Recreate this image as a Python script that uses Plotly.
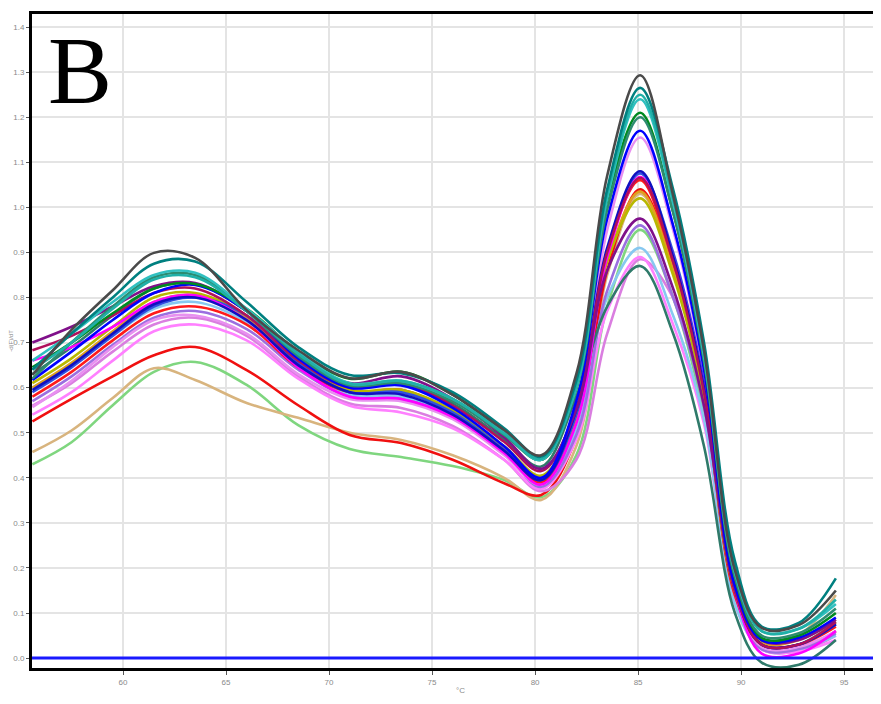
import plotly.graph_objects as go

# Temperature sample points (°C)
TEMP = [55.6, 57.5, 59.5, 61.5, 63.5, 66, 68.5, 71, 73.5, 76, 78.5, 80.3,
        82, 83.5, 85.1, 86.7, 88.2, 89.7, 91, 92.8, 94.6]

# -d(F)/dT curves
s_gray = [0.628, 0.728, 0.816, 0.899, 0.888, 0.772, 0.683, 0.621, 0.635, 0.584, 0.506, 0.450, 0.630, 1.070, 1.293, 1.027, 0.683, 0.195, 0.067, 0.073, 0.150]
s_teal = [0.640, 0.720, 0.800, 0.875, 0.880, 0.790, 0.690, 0.628, 0.632, 0.590, 0.510, 0.447, 0.615, 1.040, 1.265, 1.040, 0.700, 0.215, 0.070, 0.078, 0.177]
s_turq = [0.660, 0.720, 0.790, 0.850, 0.855, 0.775, 0.680, 0.610, 0.615, 0.575, 0.500, 0.440, 0.600, 1.020, 1.240, 1.010, 0.670, 0.190, 0.060, 0.065, 0.120]
s_sea = [0.620, 0.700, 0.780, 0.845, 0.850, 0.770, 0.670, 0.605, 0.610, 0.570, 0.495, 0.440, 0.595, 0.995, 1.200, 0.990, 0.660, 0.180, 0.050, 0.055, 0.110]
s_purple = [0.700, 0.735, 0.780, 0.825, 0.832, 0.770, 0.670, 0.610, 0.625, 0.575, 0.490, 0.420, 0.550, 0.860, 0.975, 0.820, 0.560, 0.160, 0.040, 0.040, 0.085]
s_maroon = [0.683, 0.715, 0.760, 0.810, 0.820, 0.760, 0.660, 0.600, 0.610, 0.560, 0.480, 0.415, 0.555, 0.900, 1.065, 0.880, 0.590, 0.150, 0.030, 0.030, 0.080]
s_blue = [0.617, 0.680, 0.750, 0.810, 0.828, 0.770, 0.665, 0.600, 0.605, 0.555, 0.470, 0.400, 0.570, 0.975, 1.170, 0.960, 0.640, 0.160, 0.040, 0.045, 0.090]
s_blue2 = [0.595, 0.650, 0.720, 0.785, 0.800, 0.750, 0.650, 0.590, 0.585, 0.540, 0.460, 0.395, 0.550, 0.910, 1.080, 0.890, 0.600, 0.150, 0.030, 0.030, 0.075]
s_green = [0.645, 0.700, 0.765, 0.820, 0.830, 0.775, 0.680, 0.620, 0.635, 0.585, 0.500, 0.440, 0.610, 1.015, 1.210, 0.990, 0.660, 0.180, 0.045, 0.050, 0.100]
s_olive = [0.610, 0.665, 0.735, 0.800, 0.810, 0.760, 0.660, 0.595, 0.595, 0.550, 0.470, 0.405, 0.540, 0.880, 1.020, 0.850, 0.580, 0.150, 0.040, 0.045, 0.080]
s_red = [0.580, 0.635, 0.705, 0.765, 0.780, 0.740, 0.645, 0.590, 0.595, 0.545, 0.460, 0.390, 0.530, 0.900, 1.060, 0.870, 0.580, 0.140, 0.030, 0.030, 0.070]
s_violet = [0.557, 0.615, 0.690, 0.750, 0.760, 0.720, 0.630, 0.575, 0.570, 0.530, 0.450, 0.385, 0.530, 0.950, 1.155, 0.950, 0.630, 0.150, 0.025, 0.025, 0.060]
s_pink = [0.540, 0.590, 0.660, 0.725, 0.740, 0.705, 0.620, 0.560, 0.545, 0.510, 0.440, 0.375, 0.485, 0.770, 0.890, 0.740, 0.520, 0.120, 0.020, 0.015, 0.040]
s_red2 = [0.525, 0.575, 0.625, 0.672, 0.690, 0.639, 0.561, 0.495, 0.477, 0.440, 0.388, 0.362, 0.490, 0.860, 1.040, 0.870, 0.600, 0.160, 0.025, 0.020, 0.060]
s_tan = [0.457, 0.505, 0.577, 0.643, 0.617, 0.566, 0.533, 0.500, 0.484, 0.450, 0.400, 0.351, 0.470, 0.850, 1.030, 0.870, 0.580, 0.150, 0.030, 0.050, 0.140]
s_lgreen = [0.430, 0.479, 0.561, 0.635, 0.657, 0.606, 0.517, 0.464, 0.446, 0.426, 0.395, 0.357, 0.450, 0.780, 0.950, 0.800, 0.540, 0.130, 0.020, 0.030, 0.080]
s_sky = [0.600, 0.650, 0.715, 0.775, 0.790, 0.745, 0.650, 0.585, 0.580, 0.535, 0.455, 0.390, 0.505, 0.800, 0.910, 0.760, 0.530, 0.120, 0.020, 0.020, 0.050]
s_orchid = [0.560, 0.610, 0.680, 0.740, 0.755, 0.715, 0.625, 0.565, 0.555, 0.515, 0.440, 0.370, 0.440, 0.720, 0.885, 0.800, 0.560, 0.140, 0.020, 0.015, 0.050]
s_dteal = [0.630, 0.690, 0.760, 0.820, 0.830, 0.770, 0.670, 0.605, 0.610, 0.565, 0.485, 0.425, 0.580, 0.780, 0.870, 0.720, 0.470, 0.100, -0.010, -0.015, 0.040]
s_orange = [0.600, 0.655, 0.725, 0.790, 0.805, 0.755, 0.655, 0.592, 0.590, 0.545, 0.465, 0.400, 0.535, 0.880, 1.035, 0.860, 0.580, 0.150, 0.035, 0.040, 0.085]
s_royal = [0.590, 0.645, 0.715, 0.780, 0.800, 0.760, 0.655, 0.590, 0.590, 0.545, 0.462, 0.395, 0.540, 0.900, 1.075, 0.900, 0.610, 0.155, 0.030, 0.030, 0.075]
s_magenta = [0.660, 0.690, 0.735, 0.790, 0.805, 0.750, 0.645, 0.580, 0.575, 0.535, 0.455, 0.385, 0.520, 0.890, 1.067, 0.890, 0.600, 0.150, 0.010, 0.010, 0.060]
s_mpurple = [0.570, 0.625, 0.695, 0.755, 0.770, 0.730, 0.640, 0.580, 0.575, 0.535, 0.455, 0.380, 0.495, 0.815, 0.960, 0.800, 0.560, 0.140, 0.020, 0.020, 0.055]
s_cyan = [0.640, 0.700, 0.775, 0.840, 0.845, 0.770, 0.675, 0.608, 0.615, 0.575, 0.498, 0.442, 0.605, 1.030, 1.250, 1.020, 0.680, 0.200, 0.060, 0.065, 0.130]

SERIES = [
    (s_lgreen, "#7fd67f"), (s_tan, "#d8b47e"), (s_red2, "#f01010"),
    (s_orchid, "#da7ee0"), (s_pink, "#ff80ff"), (s_sky, "#87c8f0"),
    (s_mpurple, "#9b6fe0"), (s_dteal, "#2f7a6a"), (s_violet, "#e890f0"),
    (s_red, "#ff1a1a"), (s_orange, "#e0a020"), (s_olive, "#b8b800"),
    (s_royal, "#3050e0"), (s_magenta, "#ff00ff"), (s_blue2, "#1010c0"),
    (s_maroon, "#b0105a"), (s_purple, "#80108a"), (s_blue, "#0000ff"),
    (s_green, "#008a20"), (s_sea, "#2e8b70"), (s_turq, "#30c0c0"),
    (s_cyan, "#20b0a8"), (s_teal, "#008080"), (s_gray, "#4a4a4a"),
]

X_TICKS = [60, 65, 70, 75, 80, 85, 90, 95]
Y_TICKS = [0.0, 0.1, 0.2, 0.3, 0.4, 0.5, 0.6, 0.7, 0.8, 0.9, 1.0, 1.1, 1.2, 1.3, 1.4]

fig = go.Figure()
for vals, col in SERIES:
    fig.add_trace(go.Scatter(
        x=TEMP, y=vals, mode="lines",
        line=dict(color=col, width=2.6, shape="spline", smoothing=1.0),
        showlegend=False, hoverinfo="skip"))

fig.add_shape(type="line", xref="paper", x0=0, x1=1, yref="y", y0=0, y1=0,
              line=dict(color="#1a1aff", width=3))

fig.add_annotation(text="B", xref="paper", yref="paper", x=0.0, y=1.0,
                   xshift=14, yshift=-1, xanchor="left", yanchor="top",
                   showarrow=False,
                   font=dict(family="Liberation Serif", size=96, color="black"))

fig.update_layout(
    width=881, height=688,
    margin=dict(l=24, r=0, t=6, b=28),
    paper_bgcolor="white", plot_bgcolor="white",
    font=dict(family="Liberation Sans", size=8, color="#8a8a8a"),
    xaxis=dict(range=[55.58, 97.18], tickvals=X_TICKS,
               ticktext=[str(v) for v in X_TICKS], automargin=False,
               showgrid=True, gridcolor="#e4e4e4", gridwidth=2,
               showline=True, linecolor="black", linewidth=3, mirror=True,
               ticks="outside", ticklen=4, tickcolor="#555",
               tickfont=dict(size=8, color="#8a8a8a"),
               title=dict(text="°C", font=dict(size=8, color="#8a8a8a"), standoff=2),
               zeroline=False),
    yaxis=dict(range=[-0.022, 1.429], tickvals=Y_TICKS,
               ticktext=["%.1f" % v for v in Y_TICKS], automargin=False,
               showgrid=True, gridcolor="#e4e4e4", gridwidth=2,
               showline=True, linecolor="black", linewidth=3,
               ticks="outside", ticklen=3, tickcolor="#555",
               tickfont=dict(size=8, color="#8a8a8a"),
               title=dict(text="-d(F)/dT", font=dict(size=6, color="#8a8a8a"), standoff=0),
               zeroline=False),
)

fig.write_html("out.html")
